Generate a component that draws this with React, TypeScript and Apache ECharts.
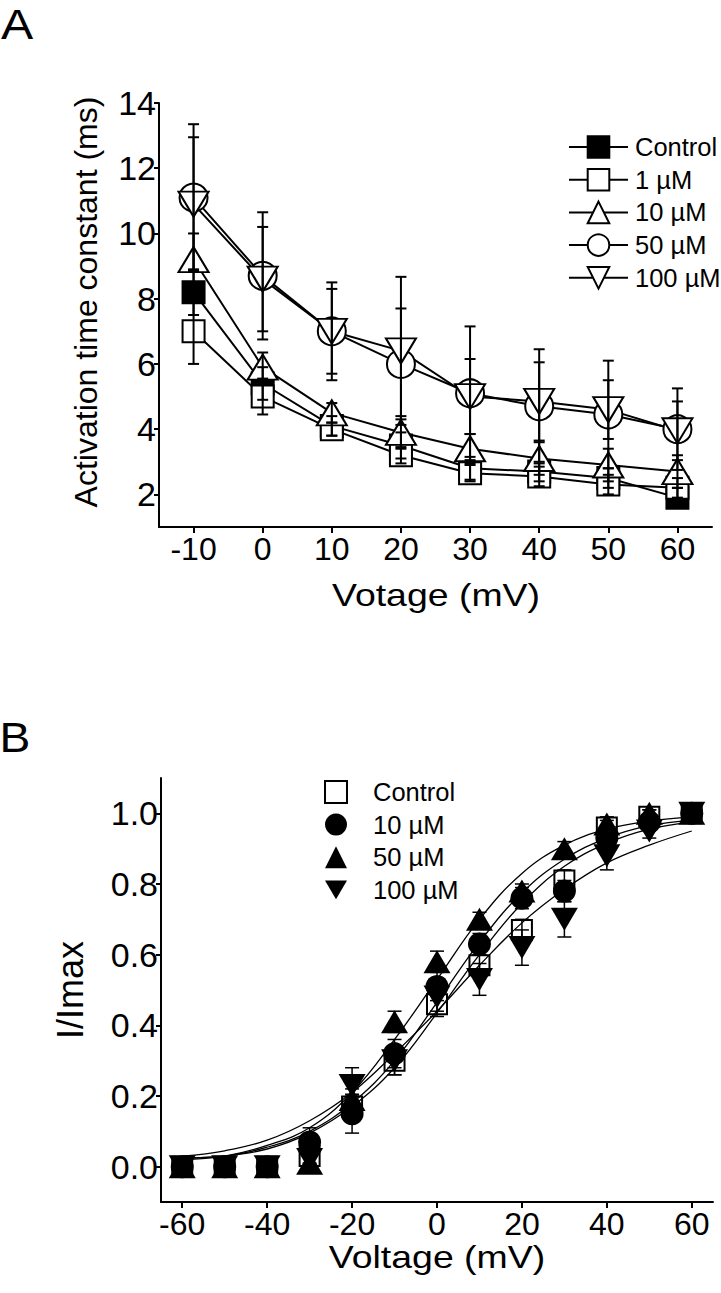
import React, { useEffect, useRef } from "react";
import * as echarts from "echarts";

// ---------- Panel A data ----------
const voltA = [-10, 0, 10, 20, 30, 40, 50, 60];
const ctrlA = [8.2, 5.4, 4.1, 3.5, 2.8, 2.7, 2.5, 1.9];
const ctrlAErr = [0.7, 0.5, 0.3, 0.4, 0.35, 0.3, 0.3, 0.3];
const um1A = [7.0, 5.0, 4.0, 3.2, 2.65, 2.55, 2.3, 2.2];
const um1AErr = [1.0, 0.55, 0.2, 0.25, 0.25, 0.3, 0.3, 0.3];
const um10A = [9.2, 5.9, 4.5, 3.9, 3.4, 3.1, 2.9, 2.7];
const um10AErr = [0.8, 0.45, 0.3, 0.5, 0.45, 0.5, 0.5, 0.5];
const um50A = [11.1, 8.7, 7.0, 6.0, 5.1, 4.7, 4.45, 4.0];
const um50AErr = [2.25, 1.95, 1.5, 1.7, 2.05, 1.75, 1.65, 1.25];
const um100A = [10.9, 8.6, 7.0, 6.4, 5.0, 4.85, 4.6, 3.95];
const um100AErr = [2.05, 1.6, 1.3, 2.27, 1.15, 1.2, 0.9, 0.9];
const xTicksA = [-10, 0, 10, 20, 30, 40, 50, 60];
const yTicksA = [2, 4, 6, 8, 10, 12, 14];

// ---------- Panel B data ----------
const voltB = [-60, -50, -40, -30, -20, -10, 0, 10, 20, 30, 40, 50, 60];
const ctrlB = [0, 0, 0, 0.03, 0.17, 0.3, 0.46, 0.57, 0.67, 0.81, 0.96, 0.99, 1.0];
const ctrlBErr = [0.01, 0.01, 0.01, 0.02, 0.03, 0.04, 0.035, 0.03, 0.03, 0.03, 0.02, 0.02, 0.0];
const um10B = [0, 0, 0, 0.07, 0.15, 0.32, 0.51, 0.63, 0.76, 0.78, 0.93, 0.975, 1.0];
const um10BErr = [0.01, 0.01, 0.01, 0.04, 0.055, 0.04, 0.04, 0.03, 0.03, 0.03, 0.02, 0.02, 0.0];
const um50B = [0, 0, 0, 0.01, 0.19, 0.41, 0.58, 0.7, 0.78, 0.9, 0.97, 1.0, 1.0];
const um50BErr = [0.01, 0.01, 0.01, 0.02, 0.03, 0.03, 0.03, 0.02, 0.02, 0.02, 0.02, 0.01, 0.0];
const um100B = [0, 0, 0, 0.02, 0.23, 0.3, 0.48, 0.53, 0.62, 0.7, 0.88, 0.95, 1.0];
const um100BErr = [0.01, 0.01, 0.01, 0.02, 0.05, 0.04, 0.04, 0.045, 0.05, 0.05, 0.04, 0.02, 0.0];

// fitted curves
const fitV = [-60, -50, -40, -30, -20, -10, 0, 10, 20, 30, 40, 50, 60];
const fitCtrl = [0.025, 0.03, 0.05, 0.095, 0.17, 0.28, 0.435, 0.6, 0.745, 0.85, 0.915, 0.955, 0.975];
const fit10 = [0.025, 0.03, 0.055, 0.1, 0.18, 0.3, 0.465, 0.635, 0.775, 0.87, 0.93, 0.965, 0.98];
const fit50 = [0.02, 0.03, 0.06, 0.11, 0.21, 0.36, 0.53, 0.7, 0.83, 0.91, 0.955, 0.978, 0.99];
const fit100 = [0.03, 0.045, 0.075, 0.13, 0.21, 0.32, 0.44, 0.57, 0.69, 0.785, 0.86, 0.91, 0.95];
const xTicksB = [-60, -40, -20, 0, 20, 40, 60];
const yTicksB = [0, 0.2, 0.4, 0.6, 0.8, 1.0];

const FONT = "'Liberation Sans', Arial, Helvetica, sans-serif";
const DOWN_TRI = "path://M0,0L20,0L10,17Z";

function errData(xs: number[], ys: number[], es: number[]) {
  return xs.map((x, i) => [x, ys[i] - es[i], ys[i] + es[i]]);
}

function errSeries(name: string, idx: number, data: number[][], capW: number, lw: number) {
  return {
    name,
    type: "custom",
    xAxisIndex: idx,
    yAxisIndex: idx,
    z: 5,
    silent: true,
    encode: { x: 0, y: [1, 2] },
    data,
    renderItem: (_p: any, api: any) => {
      const x = api.value(0);
      const lo = api.coord([x, api.value(1)]);
      const hi = api.coord([x, api.value(2)]);
      const hw = capW / 2;
      const st = { stroke: "#000", lineWidth: lw, fill: "none" };
      return {
        type: "group",
        children: [
          { type: "line", shape: { x1: lo[0], y1: lo[1], x2: hi[0], y2: hi[1] }, style: st },
          { type: "line", shape: { x1: lo[0] - hw, y1: lo[1], x2: lo[0] + hw, y2: lo[1] }, style: st },
          { type: "line", shape: { x1: hi[0] - hw, y1: hi[1], x2: hi[0] + hw, y2: hi[1] }, style: st },
        ],
      };
    },
  };
}

function lineA(name: string, ys: number[], symbol: string, size: any, fill: string) {
  return {
    name,
    type: "line",
    xAxisIndex: 0,
    yAxisIndex: 0,
    data: voltA.map((v, i) => [v, ys[i]]),
    symbol,
    symbolSize: size,
    showSymbol: true,
    z: 3,
    lineStyle: { color: "#000", width: 2 },
    itemStyle: { color: fill, borderColor: "#000", borderWidth: 2, opacity: 1 },
  };
}

function scatB(name: string, ys: number[], symbol: string, size: any, fill: string, bw: number) {
  return {
    name,
    type: "scatter",
    xAxisIndex: 1,
    yAxisIndex: 1,
    data: voltB.map((v, i) => [v, ys[i]]),
    symbol,
    symbolSize: size,
    z: 4,
    itemStyle: { color: fill, borderColor: "#000", borderWidth: bw, opacity: 1 },
  };
}

function fitB(name: string, ys: number[]) {
  return {
    name,
    type: "line",
    xAxisIndex: 1,
    yAxisIndex: 1,
    data: fitV.map((v, i) => [v, ys[i]]),
    smooth: 0.4,
    showSymbol: false,
    symbol: "none",
    z: 2,
    silent: true,
    lineStyle: { color: "#000", width: 1.3 },
  };
}

const axisLineStyle = { color: "#000", width: 2 };

function xAxisCfg(idx: number, min: number, max: number, ticks: number[]) {
  return {
    gridIndex: idx,
    type: "value",
    min,
    max,
    axisLine: { show: true, onZero: false, lineStyle: axisLineStyle },
    axisTick: { show: true, length: 6, lineStyle: axisLineStyle, customValues: ticks },
    axisLabel: {
      customValues: ticks,
      color: "#000",
      fontSize: 32,
      fontFamily: FONT,
      margin: 6,
    },
    splitLine: { show: false },
  };
}

function yAxisCfg(idx: number, min: number, max: number, ticks: number[], fmt: (v: number) => string) {
  return {
    gridIndex: idx,
    type: "value",
    min,
    max,
    axisLine: { show: true, onZero: false, lineStyle: axisLineStyle },
    axisTick: { show: true, length: 5, lineStyle: axisLineStyle, customValues: ticks },
    axisLabel: {
      customValues: ticks,
      color: "#000",
      fontSize: 34,
      fontFamily: FONT,
      margin: 3,
      formatter: fmt,
    },
    splitLine: { show: false },
  };
}

function title(text: string, x: number, y: number, size: number, rot: number, sx: number) {
  return {
    type: "text",
    x,
    y,
    rotation: rot,
    scaleX: sx,
    style: { text, font: `${size}px ${FONT}`, fill: "#000", align: "center", verticalAlign: "middle" },
  };
}

export default function App() {
  const ref = useRef<HTMLDivElement>(null);

  useEffect(() => {
    if (!ref.current) return;
    const chart = echarts.init(ref.current, undefined, { renderer: "svg" });

    const option: any = {
      animation: false,
      backgroundColor: "#fff",
      grid: [
        { left: 159, top: 103, width: 553, height: 424, containLabel: false },
        { left: 161, top: 778, width: 552, height: 424, containLabel: false },
      ],
      xAxis: [xAxisCfg(0, -15, 65, xTicksA), xAxisCfg(1, -65, 65, xTicksB)],
      yAxis: [
        yAxisCfg(0, 1, 14, yTicksA, (v: number) => String(v)),
        yAxisCfg(1, -0.1, 1.1, yTicksB, (v: number) => v.toFixed(1)),
      ],
      legend: [
        {
          orient: "vertical",
          left: 563,
          top: 129,
          itemWidth: 59,
          itemHeight: 27,
          itemGap: 6.7,
          selectedMode: false,
          data: ["Control", "1 µM", "10 µM", "50 µM", "100 µM"],
          textStyle: { color: "#000", fontSize: 25.5, fontFamily: FONT, padding: [0, 0, 0, 2] },
        },
        {
          orient: "vertical",
          left: 319,
          top: 774,
          itemWidth: 22,
          itemHeight: 22,
          itemGap: 6.6,
          selectedMode: false,
          data: ["B:Control", "B:10 µM", "B:50 µM", "B:100 µM"],
          formatter: (n: string) => n.replace(/^B:/, ""),
          textStyle: { color: "#000", fontSize: 25.5, fontFamily: FONT, padding: [0, 0, 0, 21] },
        },
      ],
      graphic: [
        title("A", 17, 25, 42, 0, 1.15),
        title("B", 15, 737, 42, 0, 1.1),
        title("Activation time constant (ms)", 86, 302, 32, Math.PI / 2, 1),
        title("Votage (mV)", 436, 595, 32, 0, 1.17),
        title("I/Imax", 70, 990, 36, Math.PI / 2, 1),
        title("Voltage (mV)", 437, 1257, 32, 0, 1.17),
      ],
      series: [
        lineA("Control", ctrlA, "rect", 22, "#000"),
        lineA("1 µM", um1A, "rect", 22, "#fff"),
        lineA("10 µM", um10A, "triangle", [30, 25], "#fff"),
        lineA("50 µM", um50A, "circle", 28, "#fff"),
        lineA("100 µM", um100A, DOWN_TRI, [30, 25], "#fff"),
        errSeries("errCtrlA", 0, errData(voltA, ctrlA, ctrlAErr), 11, 2),
        errSeries("err1A", 0, errData(voltA, um1A, um1AErr), 11, 2),
        errSeries("err10A", 0, errData(voltA, um10A, um10AErr), 11, 2),
        errSeries("err50A", 0, errData(voltA, um50A, um50AErr), 11, 2),
        errSeries("err100A", 0, errData(voltA, um100A, um100AErr), 11, 2),

        fitB("fitCtrl", fitCtrl),
        fitB("fit10", fit10),
        fitB("fit50", fit50),
        fitB("fit100", fit100),
        errSeries("errCtrlB", 1, errData(voltB, ctrlB, ctrlBErr), 14, 1.5),
        errSeries("err10B", 1, errData(voltB, um10B, um10BErr), 14, 1.5),
        errSeries("err50B", 1, errData(voltB, um50B, um50BErr), 14, 1.5),
        errSeries("err100B", 1, errData(voltB, um100B, um100BErr), 14, 1.5),
        scatB("B:Control", ctrlB, "rect", 20, "rgba(255,255,255,0)", 2),
        scatB("B:100 µM", um100B, DOWN_TRI, [27, 23], "#000", 0),
        scatB("B:50 µM", um50B, "triangle", [27, 23], "#000", 0),
        scatB("B:10 µM", um10B, "circle", 23, "#000", 0),
      ],
    };

    chart.setOption(option);
    return () => chart.dispose();
  }, []);

  return (
    <div
      ref={ref}
      style={{ position: "absolute", left: 0, top: 0, width: 721, height: 1293, background: "#fff" }}
    />
  );
}
